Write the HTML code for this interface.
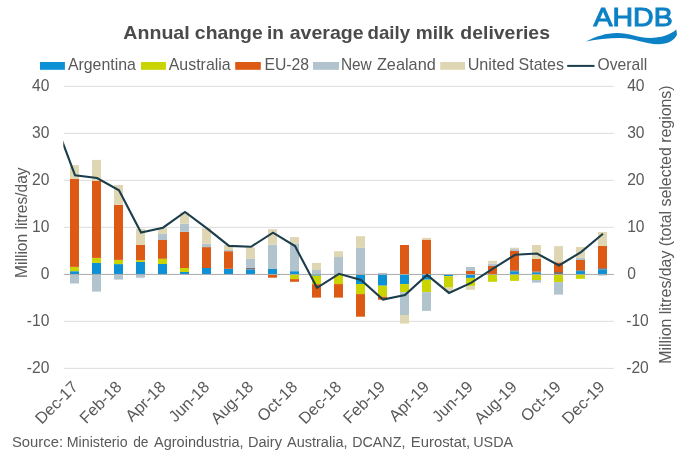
<!DOCTYPE html>
<html lang="en"><head><meta charset="utf-8"><title>Annual change in average daily milk deliveries</title>
<style>
html,body{margin:0;padding:0;background:#fff;}
body{width:680px;height:454px;overflow:hidden;}
svg{display:block;font-family:"Liberation Sans",sans-serif;will-change:transform;}
</style></head><body>
<svg width="680" height="454" viewBox="0 0 680 454">
<rect width="680" height="454" fill="#fff"/>

<line x1="63.8" x2="613.8" y1="86.35" y2="86.35" stroke="#DCDCDC" stroke-width="1"/>
<line x1="63.8" x2="613.8" y1="133.35" y2="133.35" stroke="#DCDCDC" stroke-width="1"/>
<line x1="63.8" x2="613.8" y1="180.35" y2="180.35" stroke="#DCDCDC" stroke-width="1"/>
<line x1="63.8" x2="613.8" y1="227.35" y2="227.35" stroke="#DCDCDC" stroke-width="1"/>
<line x1="63.8" x2="613.8" y1="321.35" y2="321.35" stroke="#DCDCDC" stroke-width="1"/>
<line x1="63.8" x2="613.8" y1="368.35" y2="368.35" stroke="#DCDCDC" stroke-width="1"/>
<g shape-rendering="auto">
<rect x="70.00" y="271.20" width="9.0" height="3.15" fill="#0C91D6"/>
<rect x="70.00" y="266.90" width="9.0" height="4.30" fill="#CAD400"/>
<rect x="70.00" y="178.80" width="9.0" height="88.10" fill="#DC5A14"/>
<rect x="70.00" y="165.20" width="9.0" height="13.60" fill="#DFD7B4"/>
<rect x="70.00" y="274.35" width="9.0" height="9.15" fill="#B1C3CD"/>
<rect x="92.00" y="262.90" width="9.0" height="11.45" fill="#0C91D6"/>
<rect x="92.00" y="257.90" width="9.0" height="5.00" fill="#CAD400"/>
<rect x="92.00" y="180.90" width="9.0" height="77.00" fill="#DC5A14"/>
<rect x="92.00" y="159.90" width="9.0" height="21.00" fill="#DFD7B4"/>
<rect x="92.00" y="274.35" width="9.0" height="17.25" fill="#B1C3CD"/>
<rect x="114.00" y="264.10" width="9.0" height="10.25" fill="#0C91D6"/>
<rect x="114.00" y="259.90" width="9.0" height="4.20" fill="#CAD400"/>
<rect x="114.00" y="204.80" width="9.0" height="55.10" fill="#DC5A14"/>
<rect x="114.00" y="185.00" width="9.0" height="19.80" fill="#DFD7B4"/>
<rect x="114.00" y="274.35" width="9.0" height="5.25" fill="#B1C3CD"/>
<rect x="136.00" y="262.00" width="9.0" height="12.35" fill="#0C91D6"/>
<rect x="136.00" y="260.20" width="9.0" height="1.80" fill="#CAD400"/>
<rect x="136.00" y="245.00" width="9.0" height="15.20" fill="#DC5A14"/>
<rect x="136.00" y="228.80" width="9.0" height="16.20" fill="#DFD7B4"/>
<rect x="136.00" y="274.35" width="9.0" height="3.35" fill="#B1C3CD"/>
<rect x="158.00" y="264.00" width="9.0" height="10.35" fill="#0C91D6"/>
<rect x="158.00" y="258.80" width="9.0" height="5.20" fill="#CAD400"/>
<rect x="158.00" y="240.00" width="9.0" height="18.80" fill="#DC5A14"/>
<rect x="158.00" y="233.90" width="9.0" height="6.10" fill="#B1C3CD"/>
<rect x="158.00" y="228.20" width="9.0" height="5.70" fill="#DFD7B4"/>
<rect x="180.00" y="272.00" width="9.0" height="2.35" fill="#0C91D6"/>
<rect x="180.00" y="268.00" width="9.0" height="4.00" fill="#CAD400"/>
<rect x="180.00" y="231.80" width="9.0" height="36.20" fill="#DC5A14"/>
<rect x="180.00" y="223.80" width="9.0" height="8.00" fill="#B1C3CD"/>
<rect x="180.00" y="212.40" width="9.0" height="11.40" fill="#DFD7B4"/>
<rect x="202.00" y="268.00" width="9.0" height="6.35" fill="#0C91D6"/>
<rect x="202.00" y="247.10" width="9.0" height="20.90" fill="#DC5A14"/>
<rect x="202.00" y="243.80" width="9.0" height="3.30" fill="#B1C3CD"/>
<rect x="202.00" y="228.20" width="9.0" height="15.60" fill="#DFD7B4"/>
<rect x="224.00" y="268.80" width="9.0" height="5.55" fill="#0C91D6"/>
<rect x="224.00" y="251.20" width="9.0" height="17.60" fill="#DC5A14"/>
<rect x="224.00" y="250.00" width="9.0" height="1.20" fill="#B1C3CD"/>
<rect x="224.00" y="245.00" width="9.0" height="5.00" fill="#DFD7B4"/>
<rect x="246.00" y="269.40" width="9.0" height="4.95" fill="#0C91D6"/>
<rect x="246.00" y="267.90" width="9.0" height="1.50" fill="#7A6E69"/>
<rect x="246.00" y="258.90" width="9.0" height="9.00" fill="#B1C3CD"/>
<rect x="246.00" y="247.30" width="9.0" height="11.60" fill="#DFD7B4"/>
<rect x="268.00" y="269.00" width="9.0" height="5.35" fill="#0C91D6"/>
<rect x="268.00" y="244.70" width="9.0" height="24.30" fill="#B1C3CD"/>
<rect x="268.00" y="229.20" width="9.0" height="15.50" fill="#DFD7B4"/>
<rect x="268.00" y="274.35" width="9.0" height="3.35" fill="#DC5A14"/>
<rect x="290.00" y="271.20" width="9.0" height="3.15" fill="#0C91D6"/>
<rect x="290.00" y="243.80" width="9.0" height="27.40" fill="#B1C3CD"/>
<rect x="290.00" y="237.10" width="9.0" height="6.70" fill="#DFD7B4"/>
<rect x="290.00" y="274.35" width="9.0" height="4.75" fill="#CAD400"/>
<rect x="290.00" y="279.10" width="9.0" height="2.70" fill="#DC5A14"/>
<rect x="312.00" y="270.00" width="9.0" height="4.35" fill="#B1C3CD"/>
<rect x="312.00" y="262.90" width="9.0" height="7.10" fill="#DFD7B4"/>
<rect x="312.00" y="274.35" width="9.0" height="1.35" fill="#0C91D6"/>
<rect x="312.00" y="275.70" width="9.0" height="8.50" fill="#CAD400"/>
<rect x="312.00" y="284.20" width="9.0" height="13.40" fill="#DC5A14"/>
<rect x="334.00" y="257.00" width="9.0" height="17.35" fill="#B1C3CD"/>
<rect x="334.00" y="251.20" width="9.0" height="5.80" fill="#DFD7B4"/>
<rect x="334.00" y="274.35" width="9.0" height="9.75" fill="#CAD400"/>
<rect x="334.00" y="284.10" width="9.0" height="13.50" fill="#DC5A14"/>
<rect x="356.00" y="247.90" width="9.0" height="26.45" fill="#B1C3CD"/>
<rect x="356.00" y="236.20" width="9.0" height="11.70" fill="#DFD7B4"/>
<rect x="356.00" y="274.35" width="9.0" height="9.65" fill="#0C91D6"/>
<rect x="356.00" y="284.00" width="9.0" height="10.10" fill="#CAD400"/>
<rect x="356.00" y="294.10" width="9.0" height="22.60" fill="#DC5A14"/>
<rect x="378.00" y="272.90" width="9.0" height="1.45" fill="#B1C3CD"/>
<rect x="378.00" y="274.35" width="9.0" height="11.35" fill="#0C91D6"/>
<rect x="378.00" y="285.70" width="9.0" height="11.10" fill="#CAD400"/>
<rect x="378.00" y="296.80" width="9.0" height="2.90" fill="#DC5A14"/>
<rect x="400.00" y="245.00" width="9.0" height="29.35" fill="#DC5A14"/>
<rect x="400.00" y="274.35" width="9.0" height="9.75" fill="#0C91D6"/>
<rect x="400.00" y="284.10" width="9.0" height="8.10" fill="#CAD400"/>
<rect x="400.00" y="292.20" width="9.0" height="22.80" fill="#B1C3CD"/>
<rect x="400.00" y="315.00" width="9.0" height="8.60" fill="#DFD7B4"/>
<rect x="422.00" y="239.60" width="9.0" height="34.75" fill="#DC5A14"/>
<rect x="422.00" y="237.90" width="9.0" height="1.70" fill="#DFD7B4"/>
<rect x="422.00" y="274.35" width="9.0" height="5.35" fill="#0C91D6"/>
<rect x="422.00" y="279.70" width="9.0" height="12.50" fill="#CAD400"/>
<rect x="422.00" y="292.20" width="9.0" height="18.70" fill="#B1C3CD"/>
<rect x="444.00" y="274.35" width="9.0" height="1.85" fill="#0C91D6"/>
<rect x="444.00" y="276.20" width="9.0" height="11.40" fill="#CAD400"/>
<rect x="444.00" y="287.60" width="9.0" height="3.60" fill="#DFD7B4"/>
<rect x="466.00" y="270.90" width="9.0" height="3.45" fill="#DC5A14"/>
<rect x="466.00" y="267.00" width="9.0" height="3.90" fill="#B1C3CD"/>
<rect x="466.00" y="274.35" width="9.0" height="3.55" fill="#0C91D6"/>
<rect x="466.00" y="277.90" width="9.0" height="8.00" fill="#CAD400"/>
<rect x="466.00" y="285.90" width="9.0" height="3.90" fill="#DFD7B4"/>
<rect x="488.00" y="265.90" width="9.0" height="8.45" fill="#DC5A14"/>
<rect x="488.00" y="263.50" width="9.0" height="2.40" fill="#B1C3CD"/>
<rect x="488.00" y="260.80" width="9.0" height="2.70" fill="#DFD7B4"/>
<rect x="488.00" y="274.35" width="9.0" height="7.45" fill="#CAD400"/>
<rect x="510.00" y="271.30" width="9.0" height="3.05" fill="#0C91D6"/>
<rect x="510.00" y="270.20" width="9.0" height="1.10" fill="#7A6E69"/>
<rect x="510.00" y="250.90" width="9.0" height="19.30" fill="#DC5A14"/>
<rect x="510.00" y="249.10" width="9.0" height="1.80" fill="#B1C3CD"/>
<rect x="510.00" y="247.70" width="9.0" height="1.40" fill="#DFD7B4"/>
<rect x="510.00" y="274.35" width="9.0" height="6.55" fill="#CAD400"/>
<rect x="532.00" y="272.30" width="9.0" height="2.05" fill="#0C91D6"/>
<rect x="532.00" y="271.50" width="9.0" height="0.80" fill="#7A6E69"/>
<rect x="532.00" y="258.80" width="9.0" height="12.70" fill="#DC5A14"/>
<rect x="532.00" y="245.00" width="9.0" height="13.80" fill="#DFD7B4"/>
<rect x="532.00" y="274.35" width="9.0" height="5.65" fill="#CAD400"/>
<rect x="532.00" y="280.00" width="9.0" height="2.60" fill="#B1C3CD"/>
<rect x="554.00" y="272.00" width="9.0" height="2.35" fill="#7A6E69"/>
<rect x="554.00" y="262.40" width="9.0" height="9.60" fill="#DC5A14"/>
<rect x="554.00" y="246.10" width="9.0" height="16.30" fill="#DFD7B4"/>
<rect x="554.00" y="274.35" width="9.0" height="7.75" fill="#CAD400"/>
<rect x="554.00" y="282.10" width="9.0" height="12.50" fill="#B1C3CD"/>
<rect x="576.00" y="271.10" width="9.0" height="3.25" fill="#0C91D6"/>
<rect x="576.00" y="270.20" width="9.0" height="0.90" fill="#7A6E69"/>
<rect x="576.00" y="260.00" width="9.0" height="10.20" fill="#DC5A14"/>
<rect x="576.00" y="257.90" width="9.0" height="2.10" fill="#B1C3CD"/>
<rect x="576.00" y="247.00" width="9.0" height="10.90" fill="#DFD7B4"/>
<rect x="576.00" y="274.35" width="9.0" height="4.45" fill="#CAD400"/>
<rect x="598.00" y="269.30" width="9.0" height="5.05" fill="#0C91D6"/>
<rect x="598.00" y="268.10" width="9.0" height="1.20" fill="#7A6E69"/>
<rect x="598.00" y="245.90" width="9.0" height="22.20" fill="#DC5A14"/>
<rect x="598.00" y="232.00" width="9.0" height="13.90" fill="#DFD7B4"/>
<rect x="598.00" y="274.35" width="9.0" height="1.25" fill="#B1C3CD"/>
</g>
<line x1="63.8" x2="613.8" y1="274.45" y2="274.45" stroke="#ABABAB" stroke-width="1"/>
<clipPath id="pc"><rect x="63.3" y="80" width="552" height="300"/></clipPath>
<polyline clip-path="url(#pc)" fill="none" stroke="#1C3D4B" stroke-width="2.1" stroke-linejoin="miter" stroke-miterlimit="6" stroke-linecap="butt" points="55.5,123.1 75.0,175.2 97.0,178.0 119.0,190.3 141.0,232.5 163.0,227.7 185.0,212.0 207.0,228.4 229.0,245.9 251.0,246.8 273.0,232.7 295.0,246.1 317.0,287.8 339.0,273.8 361.0,280.0 383.0,299.5 405.0,295.0 427.0,274.9 449.0,292.9 471.0,282.9 493.0,268.6 515.0,254.8 537.0,253.5 559.0,265.5 581.0,252.1 603.0,233.8"/>
<text y="38.7" font-size="19" font-weight="bold" fill="#4A4A4A"><tspan x="123.35" textLength="66.37" lengthAdjust="spacingAndGlyphs">Annual</tspan> <tspan x="194.86" textLength="67.82" lengthAdjust="spacingAndGlyphs">change</tspan> <tspan x="266.93" textLength="16.92" lengthAdjust="spacingAndGlyphs">in</tspan> <tspan x="289.67" textLength="74.0" lengthAdjust="spacingAndGlyphs">average</tspan> <tspan x="367.53" textLength="42.56" lengthAdjust="spacingAndGlyphs">daily</tspan> <tspan x="415.82" textLength="38.12" lengthAdjust="spacingAndGlyphs">milk</tspan> <tspan x="460.38" textLength="89.56" lengthAdjust="spacingAndGlyphs">deliveries</tspan></text>
<rect x="40.0" y="62.0" width="24.9" height="7.8" fill="#0C91D6"/>
<text x="67.9" y="69.6" font-size="16.2" textLength="68" lengthAdjust="spacingAndGlyphs" fill="#595959">Argentina</text>
<rect x="141.0" y="62.0" width="24.9" height="7.8" fill="#CAD400"/>
<text x="168.7" y="69.6" font-size="16.2" textLength="62.0" lengthAdjust="spacingAndGlyphs" fill="#595959">Australia</text>
<rect x="235.2" y="62.0" width="25.6" height="7.8" fill="#DC5A14"/>
<text x="264.4" y="69.6" font-size="16.2" textLength="44.7" lengthAdjust="spacingAndGlyphs" fill="#595959">EU-28</text>
<rect x="313.0" y="62.0" width="26.0" height="7.8" fill="#B1C3CD"/>
<text y="69.6" font-size="16.2" fill="#595959"><tspan x="340.91" textLength="30.86" lengthAdjust="spacingAndGlyphs">New</tspan> <tspan x="376.93" textLength="58.83" lengthAdjust="spacingAndGlyphs">Zealand</tspan></text>
<rect x="440.2" y="62.0" width="24.8" height="7.8" fill="#DFD7B4"/>
<text y="69.6" font-size="16.2" fill="#595959"><tspan x="467.67" textLength="46.8" lengthAdjust="spacingAndGlyphs">United</tspan> <tspan x="518.59" textLength="45.39" lengthAdjust="spacingAndGlyphs">States</tspan></text>
<line x1="567.2" x2="594.5" y1="65.9" y2="65.9" stroke="#1C3D4B" stroke-width="2"/>
<text x="597.6" y="69.6" font-size="16.2" textLength="49.6" lengthAdjust="spacingAndGlyphs" fill="#595959">Overall</text>
<text x="49.4" y="91.15" text-anchor="end" font-size="15.6" fill="#595959">40</text>
<text x="627.2" y="91.15" font-size="15.6" fill="#595959">40</text>
<text x="49.4" y="138.15" text-anchor="end" font-size="15.6" fill="#595959">30</text>
<text x="627.2" y="138.15" font-size="15.6" fill="#595959">30</text>
<text x="49.4" y="185.15" text-anchor="end" font-size="15.6" fill="#595959">20</text>
<text x="627.2" y="185.15" font-size="15.6" fill="#595959">20</text>
<text x="49.4" y="232.15" text-anchor="end" font-size="15.6" fill="#595959">10</text>
<text x="627.2" y="232.15" font-size="15.6" fill="#595959">10</text>
<text x="49.4" y="279.15" text-anchor="end" font-size="15.6" fill="#595959">0</text>
<text x="627.2" y="279.15" font-size="15.6" fill="#595959">0</text>
<text x="49.4" y="326.15" text-anchor="end" font-size="15.6" fill="#595959">-10</text>
<text x="626.2" y="326.15" font-size="15.6" fill="#595959">-10</text>
<text x="49.4" y="373.15" text-anchor="end" font-size="15.6" fill="#595959">-20</text>
<text x="626.2" y="373.15" font-size="15.6" fill="#595959">-20</text>
<text transform="translate(27.3,277.9) rotate(-90)" textLength="110.5" lengthAdjust="spacingAndGlyphs" font-size="16.2" fill="#595959">Million litres/day</text>
<text transform="translate(670.9,363.7) rotate(-90)" textLength="278.3" lengthAdjust="spacingAndGlyphs" font-size="16.2" fill="#595959">Million litres/day (total selected regions)</text>
<text transform="translate(78.8,387.9) rotate(-45)" text-anchor="end" font-size="16.3" fill="#595959">Dec-17</text>
<text transform="translate(122.7,387.9) rotate(-45)" text-anchor="end" font-size="16.3" fill="#595959">Feb-18</text>
<text transform="translate(166.6,387.9) rotate(-45)" text-anchor="end" font-size="16.3" fill="#595959">Apr-18</text>
<text transform="translate(210.5,387.9) rotate(-45)" text-anchor="end" font-size="16.3" fill="#595959">Jun-18</text>
<text transform="translate(254.4,387.9) rotate(-45)" text-anchor="end" font-size="16.3" fill="#595959">Aug-18</text>
<text transform="translate(298.4,387.9) rotate(-45)" text-anchor="end" font-size="16.3" fill="#595959">Oct-18</text>
<text transform="translate(342.3,387.9) rotate(-45)" text-anchor="end" font-size="16.3" fill="#595959">Dec-18</text>
<text transform="translate(386.2,387.9) rotate(-45)" text-anchor="end" font-size="16.3" fill="#595959">Feb-19</text>
<text transform="translate(430.1,387.9) rotate(-45)" text-anchor="end" font-size="16.3" fill="#595959">Apr-19</text>
<text transform="translate(474.0,387.9) rotate(-45)" text-anchor="end" font-size="16.3" fill="#595959">Jun-19</text>
<text transform="translate(517.9,387.9) rotate(-45)" text-anchor="end" font-size="16.3" fill="#595959">Aug-19</text>
<text transform="translate(561.8,387.9) rotate(-45)" text-anchor="end" font-size="16.3" fill="#595959">Oct-19</text>
<text transform="translate(605.7,387.9) rotate(-45)" text-anchor="end" font-size="16.3" fill="#595959">Dec-19</text>
<text y="446.9" font-size="15.2" fill="#595959"><tspan x="12.0" textLength="51.02" lengthAdjust="spacingAndGlyphs">Source:</tspan> <tspan x="66.77" textLength="60.83" lengthAdjust="spacingAndGlyphs">Ministerio</tspan> <tspan x="133.14" textLength="15.37" lengthAdjust="spacingAndGlyphs">de</tspan> <tspan x="154.03" textLength="89.57" lengthAdjust="spacingAndGlyphs">Agroindustria,</tspan> <tspan x="247.88" textLength="34.09" lengthAdjust="spacingAndGlyphs">Dairy</tspan> <tspan x="286.98" textLength="60.52" lengthAdjust="spacingAndGlyphs">Australia,</tspan> <tspan x="352.23" textLength="53.14" lengthAdjust="spacingAndGlyphs">DCANZ,</tspan> <tspan x="410.75" textLength="59.5" lengthAdjust="spacingAndGlyphs">Eurostat,</tspan> <tspan x="473.22" textLength="39.93" lengthAdjust="spacingAndGlyphs">USDA</tspan></text>
<g fill="#0D81C5">
<text x="593.5" y="26.45" font-size="25.2" textLength="79.2" lengthAdjust="spacingAndGlyphs" stroke="#0D81C5" stroke-width="1">AHDB</text>
<path d="M585.9,41.5 C596,36.5 606,33 617,33 C629,33 639,38 650,38 C661,38 670,35 676.3,29.6 L677,34.5 C675,40 668,44.3 658,44.3 C646,44.3 634,38 620,38 C608,38 597,39.3 585.9,41.5 Z"/>
</g>
</svg></body></html>
